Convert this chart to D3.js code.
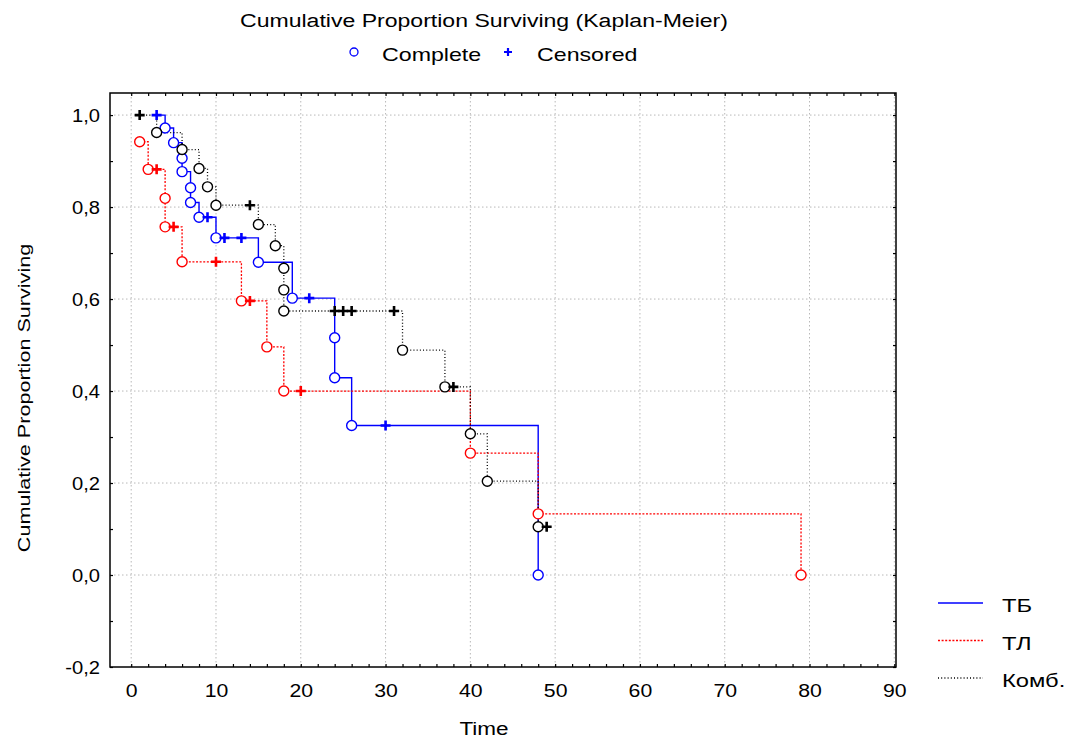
<!DOCTYPE html>
<html><head><meta charset="utf-8">
<script src="https://cdn.jsdelivr.net/npm/d3@7"></script>
<style>body{margin:0;background:#fff}svg{display:block}text{font-family:"Liberation Sans",Arial,sans-serif;fill:#000}</style>
</head><body><svg id="c" width="1075" height="740"></svg>
<script>
// ---- data ----
const tbTime = [3, 4, 5, 6, 6, 7, 7, 8, 9, 10, 11, 13, 15, 19, 21, 24, 24, 26, 30, 48];
const tbSurv = [1.0, 0.972, 0.94, 0.906, 0.877, 0.842, 0.81, 0.778, 0.778, 0.733, 0.733, 0.733, 0.68, 0.602, 0.602, 0.516, 0.429, 0.325, 0.325, 0.0];
const tbCens = [1, 0, 0, 0, 0, 0, 0, 0, 1, 0, 1, 1, 0, 0, 1, 0, 0, 0, 1, 0];

const tlTime = [1, 2, 3, 4, 4, 5, 6, 10, 13, 14, 16, 18, 20, 40, 48, 79];
const tlSurv = [0.942, 0.882, 0.882, 0.819, 0.757, 0.757, 0.681, 0.681, 0.596, 0.596, 0.496, 0.4, 0.4, 0.265, 0.133, 0.0];
const tlCens = [0, 0, 1, 0, 0, 1, 0, 1, 0, 1, 0, 0, 1, 0, 0, 0];

const kTime = [1, 3, 6, 8, 9, 10, 14, 15, 17, 18, 18, 18, 24, 25, 26, 31, 32, 37, 38, 40, 42, 48, 49];
const kSurv = [1.0, 0.962, 0.925, 0.884, 0.844, 0.804, 0.804, 0.762, 0.716, 0.667, 0.62, 0.574, 0.574, 0.574, 0.574, 0.574, 0.489, 0.409, 0.409, 0.307, 0.204, 0.105, 0.105];
const kCens = [1, 0, 0, 0, 0, 0, 1, 0, 0, 0, 0, 0, 1, 1, 1, 1, 0, 0, 1, 0, 0, 0, 1];

const seriesNames = ["ТБ", "ТЛ", "Комб."];
const xTicks = [0, 10, 20, 30, 40, 50, 60, 70, 80, 90];
const yTicks = [-0.2, 0, 0.2, 0.4, 0.6, 0.8, 1.0];
const titleText = "Cumulative Proportion Surviving (Kaplan-Meier)";
const xTitle = "Time";
const yTitle = "Cumulative Proportion Surviving";
const markLabels = ["Complete", "Censored"];

// ---- layout ----
const L = 110, R = 896, T = 93, B = 667;
const svg = d3.select("#c");
const x = d3.scaleLinear().domain([-2.5, 90.2]).range([L, R]);
const y = d3.scaleLinear().domain([-0.2, 1.048]).range([B, T]);
const fmt = v => d3.format(".1f")(v).replace(".", ",").replace("−", "-");

function stretch(sel, f) {
  sel.each(function () {
    const w = this.getComputedTextLength();
    d3.select(this).attr("textLength", w * f).attr("lengthAdjust", "spacingAndGlyphs");
  });
}

// grid
const g = svg.append("g");
g.selectAll(".gx").data(xTicks).join("line")
  .attr("x1", d => x(d)).attr("x2", d => x(d)).attr("y1", T).attr("y2", B)
  .attr("stroke", "#b8b8b8").attr("stroke-width", 1).attr("stroke-dasharray", "1.5,2.5");
g.selectAll(".gy").data(yTicks.filter(d => d > -0.2)).join("line")
  .attr("x1", L).attr("x2", R).attr("y1", d => y(d)).attr("y2", d => y(d))
  .attr("stroke", "#b8b8b8").attr("stroke-width", 1).attr("stroke-dasharray", "1.5,2.5");

// axes (ticks inward on all sides)
const xMinor = d3.range(0, 91, 2);
const yMinor = d3.range(-2, 11, 1).map(v => v / 10);
svg.append("g").attr("transform", `translate(0,${B})`)
  .call(d3.axisTop(x).tickValues(xMinor).tickSize(3).tickFormat(""))
  .call(a => { a.select(".domain").remove(); a.selectAll("line").attr("stroke-width", 1.2); });
svg.append("g").attr("transform", `translate(0,${T})`)
  .call(d3.axisBottom(x).tickValues(xMinor).tickSize(3).tickFormat(""))
  .call(a => { a.select(".domain").remove(); a.selectAll("line").attr("stroke-width", 1.2); });
svg.append("g").attr("transform", `translate(${L},0)`)
  .call(d3.axisRight(y).tickValues(yMinor).tickSize(3).tickFormat(""))
  .call(a => { a.select(".domain").remove(); a.selectAll("line").attr("stroke-width", 1.2); });
svg.append("g").attr("transform", `translate(${R},0)`)
  .call(d3.axisLeft(y).tickValues(yMinor).tickSize(3).tickFormat(""))
  .call(a => { a.select(".domain").remove(); a.selectAll("line").attr("stroke-width", 1.2); });

// tick labels
const xl = svg.append("g").attr("transform", `translate(0,${B})`)
  .call(d3.axisBottom(x).tickValues(xTicks).tickSize(0).tickPadding(30).tickFormat(d3.format("d")));
xl.select(".domain").remove();
xl.selectAll("text").attr("font-size", 18).attr("font-family", "Liberation Sans").attr("dy", null).attr("y", 30);
stretch(xl.selectAll("text"), 1.18);
const yl = svg.append("g").attr("transform", `translate(${L},0)`)
  .call(d3.axisLeft(y).tickValues(yTicks).tickSize(0).tickPadding(10).tickFormat(fmt));
yl.select(".domain").remove();
yl.selectAll("text").attr("font-size", 18).attr("font-family", "Liberation Sans").attr("dy", "0.36em");
stretch(yl.selectAll("text"), 1.12);

// frame
svg.append("rect").attr("x", L).attr("y", T).attr("width", R - L).attr("height", B - T)
  .attr("fill", "none").attr("stroke", "#000").attr("stroke-width", 1.5);

// series
const series = [
  { name: seriesNames[0], t: tbTime, s: tbSurv, c: tbCens, color: "#0000ff", dash: null, w: 1.4 },
  { name: seriesNames[1], t: tlTime, s: tlSurv, c: tlCens, color: "#ff0000", dash: "2,1.6", w: 1.3 },
  { name: seriesNames[2], t: kTime, s: kSurv, c: kCens, color: "#000000", dash: "1,2.2", w: 1.3 }
];
const stepLine = d3.line().x(d => x(d[0])).y(d => y(d[1])).curve(d3.curveStepAfter);
series.forEach(sr => {
  const pts = sr.t.map((t, i) => [t, sr.s[i]]);
  svg.append("path").datum(pts).attr("d", stepLine)
    .attr("fill", "none").attr("stroke", sr.color).attr("stroke-width", sr.w)
    .attr("stroke-dasharray", sr.dash);
});
series.forEach(sr => {
  const pts = sr.t.map((t, i) => ({ t, s: sr.s[i], c: sr.c[i] }));
  svg.append("g").selectAll("circle").data(pts.filter(p => !p.c)).join("circle")
    .attr("cx", p => x(p.t)).attr("cy", p => y(p.s)).attr("r", 5)
    .attr("fill", "#fff").attr("stroke", sr.color).attr("stroke-width", 1.4);
  svg.append("g").selectAll("path").data(pts.filter(p => p.c)).join("path")
    .attr("d", p => `M${x(p.t) - 5},${y(p.s)}h10M${x(p.t)},${y(p.s) - 5}v10`)
    .attr("stroke", sr.color).attr("stroke-width", 2.6).attr("fill", "none");
});

// titles
const tt = svg.append("text").attr("x", 484).attr("y", 27).attr("text-anchor", "middle")
  .attr("font-size", 18).text(titleText);
stretch(tt, 1.28);
// marker legend
svg.append("circle").attr("cx", 354).attr("cy", 52).attr("r", 4)
  .attr("fill", "none").attr("stroke", "#0000ff").attr("stroke-width", 1.3);
svg.append("path").attr("d", "M504,52h8M508,48v8").attr("stroke", "#0000ff").attr("stroke-width", 2.2);
const m1 = svg.append("text").attr("x", 382).attr("y", 61).attr("font-size", 19).text(markLabels[0]);
stretch(m1, 1.22);
const m2 = svg.append("text").attr("x", 537).attr("y", 61).attr("font-size", 19).text(markLabels[1]);
stretch(m2, 1.22);

const xt = svg.append("text").attr("x", 484).attr("y", 735).attr("text-anchor", "middle")
  .attr("font-size", 18).text(xTitle);
stretch(xt, 1.25);
const yt = svg.append("text").attr("transform", "translate(30,398) rotate(-90)").attr("text-anchor", "middle")
  .attr("font-size", 17).text(yTitle);
stretch(yt, 1.27);

// series legend
series.forEach((sr, i) => {
  const ly = 603 + i * 37.5;
  svg.append("line").attr("x1", 938).attr("x2", 983).attr("y1", ly).attr("y2", ly)
    .attr("stroke", sr.color).attr("stroke-width", sr.w).attr("stroke-dasharray", sr.dash);
  const lt = svg.append("text").attr("x", 1002).attr("y", ly + 9).attr("font-size", 19).text(sr.name);
  stretch(lt, 1.25);
});
</script></body></html>
